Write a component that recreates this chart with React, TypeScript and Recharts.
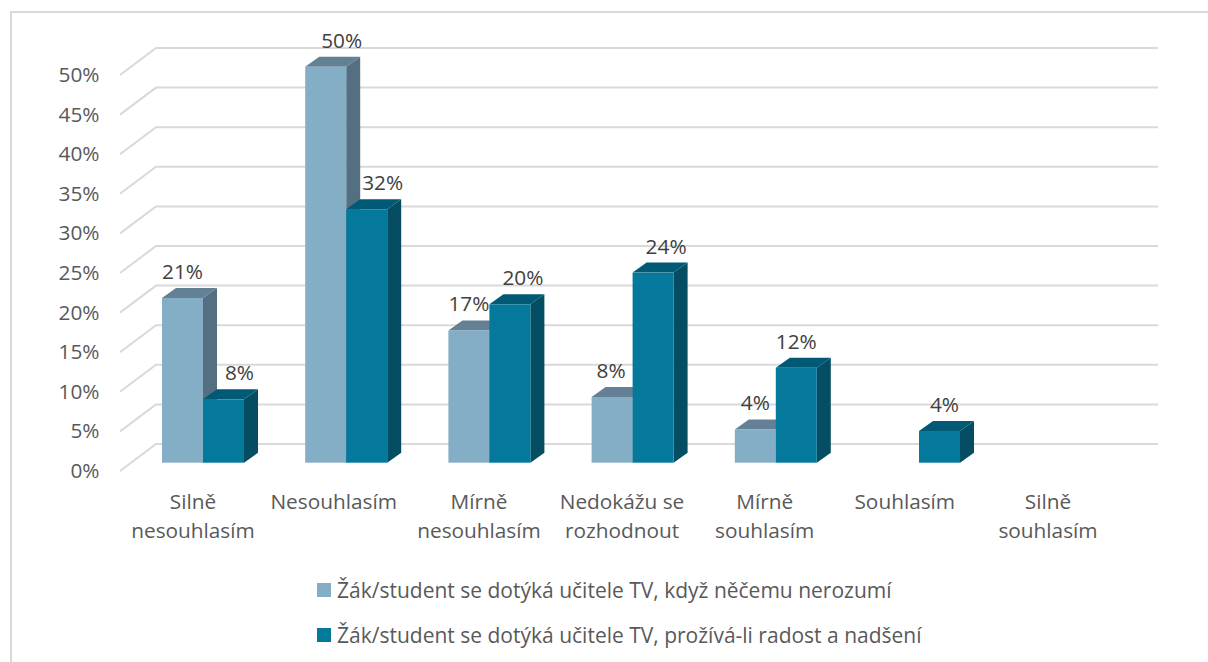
import React from "react";
import { BarChart, Bar, XAxis, YAxis, CartesianGrid, Legend, LabelList } from "recharts";

const categories = ["Silně nesouhlasím", "Nesouhlasím", "Mírně nesouhlasím", "Nedokážu se rozhodnout", "Mírně souhlasím", "Souhlasím", "Silně souhlasím"];
const categoryLines = [["Silně", "nesouhlasím"], ["Nesouhlasím"], ["Mírně", "nesouhlasím"], ["Nedokážu se", "rozhodnout"], ["Mírně", "souhlasím"], ["Souhlasím"], ["Silně", "souhlasím"]];
const confusedValues = [20.8, 50, 16.7, 8.3, 4.2, null, null];
const joyValues = [8, 32, 20, 24, 12, 4, null];
const seriesNames = ["Žák/student se dotýká učitele TV, když něčemu nerozumí", "Žák/student se dotýká učitele TV, prožívá-li radost a nadšení"];
const yTicks = [0, 5, 10, 15, 20, 25, 30, 35, 40, 45, 50];

const rows = categories.map((name, i) => ({ name, lines: categoryLines[i], a: confusedValues[i], b: joyValues[i] }));

const FONT = "'Open Sans', sans-serif";
const TEXT_SIZE = 20.8;
const tickShift = [-9.6, -12.1, -10, -10.2, -10.7, -13.8, -13.8];
const labelShiftA = [0, 16, 0, -1, 0, 0, 0];
const labelShiftB = [16, 16, 13, 13, 0, 5, 0];
const DEPTH_X = 14;
const DEPTH_Y = 10;

const bar3d = (front: string, top: string, side: string) => (p: any) => {
  const { x, y, width: w, height: h } = p;
  if (!h || h <= 0) return <g />;
  return (
    <g>
      <polygon points={`${x + w},${y} ${x + w + DEPTH_X},${y - DEPTH_Y} ${x + w + DEPTH_X},${y + h - DEPTH_Y} ${x + w},${y + h}`} fill={side} />
      <polygon points={`${x},${y} ${x + DEPTH_X},${y - DEPTH_Y} ${x + w + DEPTH_X},${y - DEPTH_Y} ${x + w},${y}`} fill={top} />
      <rect x={x} y={y} width={w} height={h} fill={front} />
    </g>
  );
};

const gridLine = (p: any) => (
  <polyline key={p.key ?? p.index} points={`${p.x1 - 11},${p.y1 + 8.3} ${p.x1 + 25},${p.y1 - 18.7} ${p.x2 + 24.6},${p.y1 - 18.7}`} fill="none" stroke="#d9d9d9" strokeWidth={2} />
);

const YTick = (p: any) => (
  <text x={99.5} y={p.y + 8.3} dy={7} textAnchor="end" fill="#595959" fontFamily={FONT} fontSize={TEXT_SIZE}>{p.payload.value}%</text>
);

const XTick = (p: any) => (
  <g>
    {categoryLines[p.index].map((line, i) => (
      <text key={i} x={p.x + tickShift[p.index]} y={509 + i * 29.4} textAnchor="middle" fill="#595959" fontFamily={FONT} fontSize={TEXT_SIZE}>{line}</text>
    ))}
  </g>
);

const barLabel = (shift: number[]) => (p: any) => {
  if (p.value == null) return <g />;
  return (
    <text x={p.x + p.width / 2 + shift[p.index]} y={p.y - 19} textAnchor="middle" fill="#404040" fontFamily={FONT} fontSize={TEXT_SIZE}>{Math.round(p.value)}%</text>
  );
};

const LegendBox = ({ payload }: any) => (
  <div style={{ fontFamily: FONT, fontSize: 21, color: "#595959" }}>
    {(payload || []).map((e: any) => (
      <div key={e.value} style={{ display: "flex", alignItems: "center", height: 45, whiteSpace: "nowrap" }}>
        <span style={{ display: "inline-block", width: 14, height: 14, marginRight: 6, background: e.color }} />
        <span>{e.value}</span>
      </div>
    ))}
  </div>
);

export default function App() {
  return (
    <div style={{ position: "absolute", left: 0, top: 0, width: 1208, height: 662, overflow: "hidden", background: "#fff" }}>
      <div style={{ position: "absolute", left: 10, top: 11, width: 1198, height: 651, boxSizing: "border-box", borderLeft: "2px solid #d9d9d9", borderTop: "2px solid #d9d9d9" }} />
      <BarChart width={1208} height={662} data={rows} margin={{ top: 66.7, right: 74.6, bottom: 0, left: 0 }} barGap={0} barSize={41} style={{ position: "absolute", left: 0, top: 0 }}>
        <CartesianGrid vertical={false} horizontal={gridLine} />
        <XAxis dataKey="name" axisLine={false} tickLine={false} height={199.3} interval={0} tick={XTick} />
        <YAxis width={131} domain={[0, 50]} ticks={yTicks} axisLine={false} tickLine={false} tick={YTick} />
        <Legend layout="vertical" align="center" verticalAlign="middle" wrapperStyle={{ left: 317, top: 567, width: 800, right: "auto", bottom: "auto" }} content={LegendBox} />
        <Bar dataKey="a" name={seriesNames[0]} fill="#84AEC6" isAnimationActive={false} shape={bar3d("#84AEC6", "#648095", "#546E82")}>
          <LabelList dataKey="a" content={barLabel(labelShiftA)} />
        </Bar>
        <Bar dataKey="b" name={seriesNames[1]} fill="#05799C" isAnimationActive={false} shape={bar3d("#05799C", "#015A75", "#044D63")}>
          <LabelList dataKey="b" content={barLabel(labelShiftB)} />
        </Bar>
      </BarChart>
    </div>
  );
}
